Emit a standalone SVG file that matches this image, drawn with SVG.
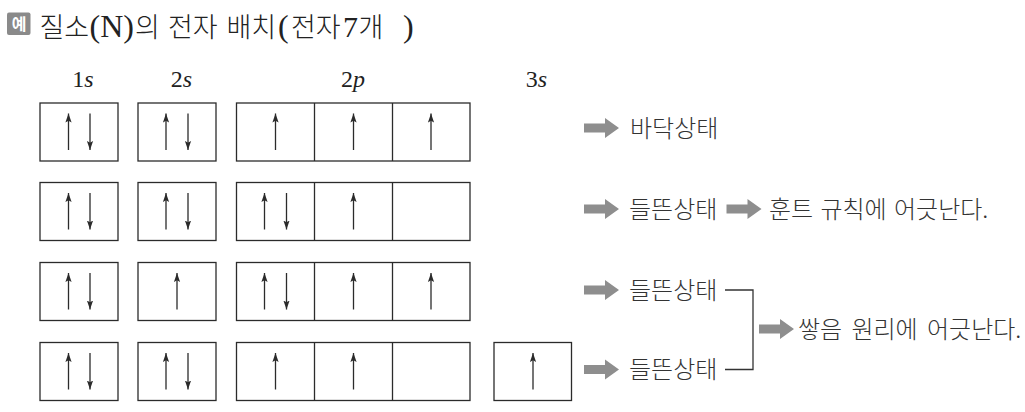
<svg xmlns="http://www.w3.org/2000/svg" width="1025" height="412" viewBox="0 0 1025 412">
<style>
.box{fill:none;stroke:#2b2b2b;stroke-width:1.3}
.sp{stroke:#2b2b2b;stroke-width:1.3;fill:none;marker-end:url(#ah)}
.ko{font-family:"Noto Sans CJK KR","Noto Sans",sans-serif;font-size:24px;font-weight:300;fill:#333}
.ttl{font-family:"Noto Sans CJK KR","Noto Sans",sans-serif;font-size:27px;font-weight:300;fill:#222}
.ser{font-family:"Liberation Serif","DejaVu Serif",serif;font-size:32px;font-weight:normal;fill:#222}
.lab{font-family:"Liberation Serif","DejaVu Serif",serif;font-size:24px;fill:#222;text-anchor:middle}
.ga{fill:#8e8e8e}
.br{fill:none;stroke:#333;stroke-width:1.3}
</style>
<defs>
<marker id="ah" markerUnits="userSpaceOnUse" markerWidth="10" markerHeight="7" refX="9" refY="3.5" orient="auto">
<path d="M0,0.4 L9,3.5 L0,6.6 L1.8,3.5 Z" fill="#2b2b2b"/>
</marker>
<path id="garr" d="M0,-4.5 H21 V-10 L35,0 L21,10 V4.5 H0 Z"/>
</defs>

<g id="title">
<rect x="7" y="12.5" width="23.5" height="22.5" rx="2" fill="#8a8a8a"/>
<text x="19" y="30" text-anchor="middle" style="font-family:'Noto Sans CJK KR',sans-serif;font-size:16px;font-weight:bold;fill:#fff">예</text>
<text class="ttl" y="36.5"><tspan x="39.5">질소</tspan><tspan class="ser" x="89.5">(N)</tspan><tspan x="135">의</tspan><tspan x="168">전자</tspan><tspan x="226.5">배치</tspan><tspan class="ser" x="278">(</tspan><tspan x="291">전자</tspan><tspan class="ser" style="font-size:30px" x="343">7</tspan><tspan x="358.5">개</tspan><tspan class="ser" x="403">)</tspan></text>
</g>

<g id="labels">
<text class="lab" x="83" y="87">1<tspan font-style="italic">s</tspan></text>
<text class="lab" x="181.5" y="87">2<tspan font-style="italic">s</tspan></text>
<text class="lab" x="353" y="87">2<tspan font-style="italic">p</tspan></text>
<text class="lab" x="536.5" y="87">3<tspan font-style="italic">s</tspan></text>
</g>

<g id="row1">
<rect class="box" x="40" y="103" width="78" height="58"/>
<rect class="box" x="138" y="103" width="78" height="58"/>
<rect class="box" x="236.5" y="103" width="233.5" height="58"/>
<line class="box" x1="314.5" y1="103" x2="314.5" y2="161"/>
<line class="box" x1="392.5" y1="103" x2="392.5" y2="161"/>
<path class="sp" d="M68.5,150 V113.5"/><path class="sp" d="M90,113.5 V150"/>
<path class="sp" d="M166,150 V113.5"/><path class="sp" d="M188,113.5 V150"/>
<path class="sp" d="M275.5,150 V113.5"/>
<path class="sp" d="M353.5,150 V113.5"/>
<path class="sp" d="M431,150 V113.5"/>
</g>

<g id="row2">
<rect class="box" x="40" y="182.5" width="78" height="58"/>
<rect class="box" x="138" y="182.5" width="78" height="58"/>
<rect class="box" x="236.5" y="182.5" width="233.5" height="58"/>
<line class="box" x1="314.5" y1="182.5" x2="314.5" y2="240.5"/>
<line class="box" x1="392.5" y1="182.5" x2="392.5" y2="240.5"/>
<path class="sp" d="M68.5,229.5 V193"/><path class="sp" d="M90,193 V229.5"/>
<path class="sp" d="M166,229.5 V193"/><path class="sp" d="M188,193 V229.5"/>
<path class="sp" d="M264.5,229.5 V193"/><path class="sp" d="M286.5,193 V229.5"/>
<path class="sp" d="M353.5,229.5 V193"/>
</g>

<g id="row3">
<rect class="box" x="40" y="262.5" width="78" height="58"/>
<rect class="box" x="138" y="262.5" width="78" height="58"/>
<rect class="box" x="236.5" y="262.5" width="233.5" height="58"/>
<line class="box" x1="314.5" y1="262.5" x2="314.5" y2="320.5"/>
<line class="box" x1="392.5" y1="262.5" x2="392.5" y2="320.5"/>
<path class="sp" d="M68.5,309.5 V273"/><path class="sp" d="M90,273 V309.5"/>
<path class="sp" d="M177,309.5 V273"/>
<path class="sp" d="M264.5,309.5 V273"/><path class="sp" d="M286.5,273 V309.5"/>
<path class="sp" d="M353.5,309.5 V273"/>
<path class="sp" d="M431,309.5 V273"/>
</g>

<g id="row4">
<rect class="box" x="40" y="342.5" width="78" height="58"/>
<rect class="box" x="138" y="342.5" width="78" height="58"/>
<rect class="box" x="236.5" y="342.5" width="233.5" height="58"/>
<line class="box" x1="314.5" y1="342.5" x2="314.5" y2="400.5"/>
<line class="box" x1="392.5" y1="342.5" x2="392.5" y2="400.5"/>
<rect class="box" x="494" y="342.5" width="77.5" height="58"/>
<path class="sp" d="M68.5,389.5 V353"/><path class="sp" d="M90,353 V389.5"/>
<path class="sp" d="M166,389.5 V353"/><path class="sp" d="M188,353 V389.5"/>
<path class="sp" d="M275.5,389.5 V353"/>
<path class="sp" d="M353.5,389.5 V353"/>
<path class="sp" d="M533,389.5 V353"/>
</g>

<g id="connectors">
<use href="#garr" class="ga" x="584" y="128"/>
<use href="#garr" class="ga" x="584" y="209"/>
<use href="#garr" class="ga" x="726.5" y="209"/>
<use href="#garr" class="ga" x="584" y="290"/>
<use href="#garr" class="ga" x="584" y="369.5"/>
<use href="#garr" class="ga" x="759" y="329"/>
<path class="br" d="M725,290 H753 V369.5 H725"/>
</g>

<g id="texts">
<text class="ko" x="630" y="136.5">바닥상태</text>
<text class="ko" x="629" y="217.5">들뜬상태</text>
<text class="ko" x="769" y="217.5" word-spacing="2">훈트 규칙에 어긋난다.</text>
<text class="ko" x="629" y="298.5">들뜬상태</text>
<text class="ko" x="629" y="378">들뜬상태</text>
<text class="ko" x="798" y="337.5" word-spacing="4">쌓음 원리에 어긋난다.</text>
</g>
</svg>
